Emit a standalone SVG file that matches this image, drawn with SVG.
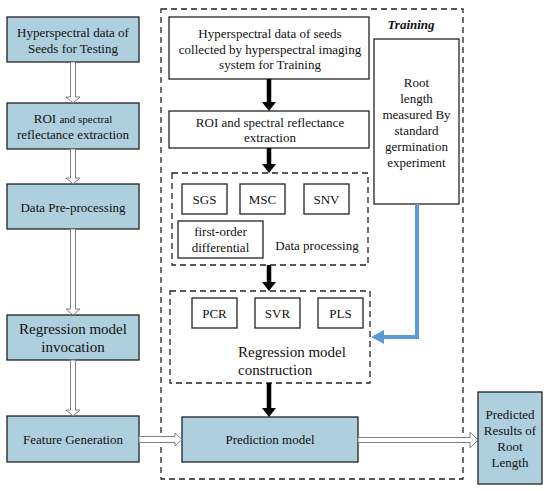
<svg xmlns="http://www.w3.org/2000/svg" width="550" height="491" viewBox="0 0 550 491">
<style>
text{font-family:'Liberation Serif','Times New Roman',serif;font-size:13px;fill:#111;text-anchor:middle}
.blue{fill:#aecfdd;stroke:#222;stroke-width:1.3}
.wbox{fill:#fff;stroke:#222;stroke-width:1.3}
.dash{fill:none;stroke:#222;stroke-width:1.3;stroke-dasharray:6,4}
.hollow{fill:#fff;stroke:#808080;stroke-width:1}
.blk{stroke:#000;stroke-width:4.5;fill:none}
.big{font-size:15px}
</style>
<rect width="550" height="491" fill="#fff"/>

<g id="training-frame">
<rect x="161" y="9" width="302" height="470" class="dash"/>
<text x="411" y="29" font-weight="bold" font-style="italic">Training</text>
</g>

<g id="test1"><rect x="7" y="17" width="132" height="45" class="blue"/>
<text x="73" y="37">Hyperspectral data of</text><text x="73" y="53">Seeds for Testing</text></g>
<g id="test2"><rect x="7" y="103" width="132" height="46" class="blue"/>
<text x="73" y="123">ROI  <tspan font-size="11">and spectral</tspan></text><text x="73" y="139" font-size="11">reflectance extraction</text></g>
<g id="test3"><rect x="7" y="184" width="132" height="45" class="blue"/>
<text x="73" y="212">Data Pre-processing</text></g>
<g id="test4"><rect x="7" y="315" width="132" height="45" class="blue"/>
<text x="73" y="334" class="big">Regression model</text><text x="73" y="352" class="big">invocation</text></g>
<g id="test5"><rect x="7" y="416" width="132" height="46" class="blue"/>
<text x="73" y="444">Feature Generation</text></g>

<g id="train1"><rect x="169" y="17" width="200" height="62" class="wbox"/>
<text x="270" y="38">Hyperspectral data  of seeds</text>
<text x="270" y="54">collected by hyperspectral imaging</text>
<text x="270" y="69">system for Training</text></g>
<g id="train2"><rect x="169" y="111" width="200" height="37" class="wbox"/>
<text x="270" y="127">ROI  and spectral reflectance</text>
<text x="270" y="142">extraction</text></g>

<g id="data-processing">
<rect x="172" y="173" width="196" height="92" class="dash"/>
<rect x="182" y="184" width="45" height="30" class="wbox"/><text x="204.5" y="204">SGS</text>
<rect x="240" y="184" width="45" height="30" class="wbox"/><text x="262.5" y="204">MSC</text>
<rect x="304" y="184" width="45" height="30" class="wbox"/><text x="326.5" y="204">SNV</text>
<rect x="178" y="221" width="85" height="37" class="wbox"/><text x="220.5" y="236">first-order</text><text x="220.5" y="252">differential</text>
<text x="317" y="250">Data processing</text>
</g>

<g id="regression">
<rect x="170" y="291" width="200" height="92" class="dash"/>
<rect x="192" y="298" width="45" height="30" class="wbox"/><text x="214.5" y="318">PCR</text>
<rect x="255" y="298" width="45" height="30" class="wbox"/><text x="277.5" y="318">SVR</text>
<rect x="318" y="298" width="45" height="30" class="wbox"/><text x="340.5" y="318">PLS</text>
<text x="238" y="357" class="big" style="text-anchor:start">Regression model</text>
<text x="238" y="375" class="big" style="text-anchor:start">construction</text>
</g>

<g id="prediction"><rect x="182" y="417" width="176" height="45" class="blue"/>
<text x="270" y="444">Prediction model</text></g>

<g id="root"><rect x="374" y="39" width="85" height="165" class="wbox"/>
<text x="416.5" y="87">Root</text><text x="416.5" y="103">length</text><text x="416.5" y="119">measured By</text>
<text x="416.5" y="135">standard</text><text x="416.5" y="151">germination</text><text x="416.5" y="167">experiment</text></g>

<g id="result"><rect x="478" y="392" width="64" height="92" class="blue"/>
<text x="510" y="419">Predicted</text><text x="510" y="435">Results of</text><text x="510" y="451">Root</text><text x="510" y="467">Length</text></g>

<g id="connectors">
<polygon class="hollow" points="70.5,62 70.5,97 66,97 73,103 80,97 75.5,97 75.5,62"/>
<polygon class="hollow" points="70.5,149 70.5,178 66,178 73,184 80,178 75.5,178 75.5,149"/>
<polygon class="hollow" points="70.5,229 70.5,309 66,309 73,315 80,309 75.5,309 75.5,229"/>
<polygon class="hollow" points="70.5,360 70.5,410 66,410 73,416 80,410 75.5,410 75.5,360"/>
<polygon class="hollow" points="139,436.5 175,436.5 175,433 182,439.5 175,446 175,442.5 139,442.5"/>
<polygon class="hollow" points="358,437.5 470,437.5 470,432 478,440 470,448 470,442.5 358,442.5"/>
<line class="blk" x1="269" y1="79" x2="269" y2="103"/><polygon points="262,102 276,102 269,111" fill="#000"/>
<line class="blk" x1="269" y1="148" x2="269" y2="165"/><polygon points="262,164 276,164 269,173" fill="#000"/>
<line class="blk" x1="269" y1="265" x2="269" y2="283"/><polygon points="262,282 276,282 269,291" fill="#000"/>
<line class="blk" x1="269" y1="383" x2="269" y2="409"/><polygon points="262,408 276,408 269,417" fill="#000"/>
<path d="M417,204 V337 H382" fill="none" stroke="#5b9bd5" stroke-width="4"/>
<polygon points="371,337 384,330 384,344" fill="#5b9bd5"/>
</g>
</svg>
